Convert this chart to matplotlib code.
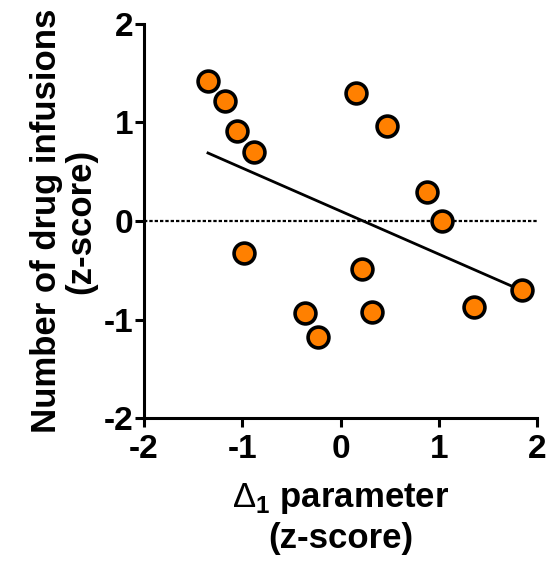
import numpy as np
import matplotlib
matplotlib.use("Agg")
import matplotlib.pyplot as plt

# z-scored values
delta1 = [-1.35, -1.18, -1.05, -0.88, -0.98, -0.36, -0.23, 0.16, 0.47,
          0.22, 0.32, 0.88, 1.03, 1.36, 1.85]
infusions = [1.42, 1.22, 0.91, 0.70, -0.32, -0.93, -1.17, 1.30, 0.96,
             -0.49, -0.92, 0.30, 0.00, -0.87, -0.70]

X_TICKS = [-2, -1, 0, 1, 2]
Y_TICKS = [-2, -1, 0, 1, 2]
ORANGE = "#FF8000"

plt.rcParams["font.family"] = ["Liberation Sans", "DejaVu Sans"]
plt.rcParams["mathtext.fontset"] = "custom"
plt.rcParams["mathtext.rm"] = "Liberation Sans"
plt.rcParams["mathtext.bf"] = "Liberation Sans:bold"

fig = plt.figure(figsize=(5.48, 5.67), dpi=100)
ax = fig.add_axes([0.263, 0.262, 0.717, 0.696])

# zero reference line
ax.axhline(0, color="black", linestyle=(0, (1.5, 0.9)), linewidth=1.6, zorder=1)

# linear regression over the data range
x = np.array(delta1)
y = np.array(infusions)
slope, intercept = np.polyfit(x, y, 1)
xs = np.array([x.min(), x.max()])
ax.plot(xs, slope * xs + intercept, color="black", linewidth=2, zorder=2)

ax.plot(x, y, "o", markersize=15, markerfacecolor=ORANGE,
        markeredgecolor="black", markeredgewidth=2.6, zorder=3)

ax.set_xlim(-2, 2)
ax.set_ylim(-2, 2)
ax.set_xticks(X_TICKS)
ax.set_yticks(Y_TICKS)
ax.set_xticklabels([str(t) for t in X_TICKS], fontweight="bold")
ax.set_yticklabels([str(t) for t in Y_TICKS], fontweight="bold")

for side in ["top", "right"]:
    ax.spines[side].set_visible(False)
for side in ["left", "bottom"]:
    ax.spines[side].set_linewidth(2.2)

ax.tick_params(axis="both", direction="out", length=6.5, width=2.2,
               labelsize=24, pad=1.5)
ax.tick_params(axis="x", pad=5)

ax.set_xlabel(r"$\Delta_{\mathbf{1}}$ parameter" + "\n(z-score)",
              fontsize=25, fontweight="bold", labelpad=11, linespacing=1.25)
ax.set_ylabel("Number of drug infusions\n(z-score)",
              fontsize=25, fontweight="bold", labelpad=4, linespacing=1.05)

fig.savefig("out.png", dpi=100)
